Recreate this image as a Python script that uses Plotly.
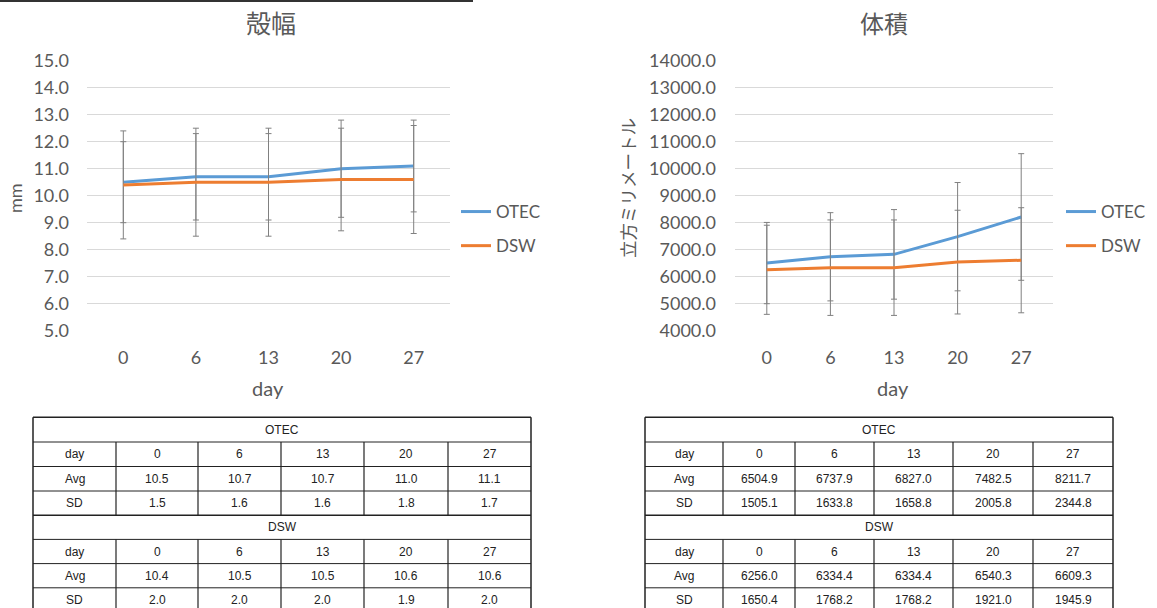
import plotly.graph_objects as go

# ---- data ----
days = ["0", "6", "13", "20", "27"]

width_otec_avg = [10.5, 10.7, 10.7, 11.0, 11.1]
width_otec_sd = [1.5, 1.6, 1.6, 1.8, 1.7]
width_dsw_avg = [10.4, 10.5, 10.5, 10.6, 10.6]
width_dsw_sd = [2.0, 2.0, 2.0, 1.9, 2.0]

vol_otec_avg = [6504.9, 6737.9, 6827.0, 7482.5, 8211.7]
vol_otec_sd = [1505.1, 1633.8, 1658.8, 2005.8, 2344.8]
vol_dsw_avg = [6256.0, 6334.4, 6334.4, 6540.3, 6609.3]
vol_dsw_sd = [1650.4, 1768.2, 1768.2, 1921.0, 1945.9]

series_names = ["OTEC", "DSW"]
series_colors = ["#5B9BD5", "#ED7D31"]

W, H = 1157, 608
TXT = "#595959"
FONT = "Lato, Noto Sans CJK JP, sans-serif"
JFONT = "Noto Sans CJK JP, sans-serif"
TFONT = "Liberation Sans Narrow, Liberation Sans, sans-serif"


def px(x):
    return x / W


def py(y):
    return 1 - y / H


fig = go.Figure()

# ---- line charts with SD error bars ----
charts = [
    ("x", "y", [width_otec_avg, width_dsw_avg], [width_otec_sd, width_dsw_sd], "legend"),
    ("x2", "y2", [vol_otec_avg, vol_dsw_avg], [vol_otec_sd, vol_dsw_sd], "legend2"),
]
for xa, ya, avgs, sds, leg in charts:
    for name, color, avg, sd in zip(series_names, series_colors, avgs, sds):
        fig.add_trace(go.Scatter(
            x=days, y=avg, name=name, mode="lines",
            line=dict(color=color, width=3),
            error_y=dict(type="data", array=sd, visible=True,
                         color="#808080", thickness=1, width=3),
            xaxis=xa, yaxis=ya, legend=leg, legendgroup=name,
        ))

axis_common = dict(showline=False, zeroline=False, ticks="",
                   tickfont=dict(family=FONT, size=18, color=TXT))

fig.update_layout(
    width=W, height=H,
    margin=dict(l=0, r=0, t=0, b=0, autoexpand=False),
    paper_bgcolor="white", plot_bgcolor="white",
    xaxis=dict(domain=[px(87), px(450)], type="category", range=[-0.5, 4.5],
               showgrid=False, anchor="y", ticklabelstandoff=14, **axis_common),
    yaxis=dict(domain=[py(330.7), py(60.7)], range=[5, 15], dtick=1,
               tickformat=".1f", gridcolor="#d9d9d9", gridwidth=1,
               anchor="x", ticklabelstandoff=17, **axis_common),
    xaxis2=dict(domain=[px(735), px(1053)], type="category", range=[-0.5, 4.5],
                showgrid=False, anchor="y2", ticklabelstandoff=14, **axis_common),
    yaxis2=dict(domain=[py(330.7), py(60.7)], range=[4000, 14000], dtick=1000,
                tickformat=".1f", gridcolor="#d9d9d9", gridwidth=1,
                anchor="x2", ticklabelstandoff=18, **axis_common),
    legend=dict(x=px(456), y=py(229), xanchor="left", yanchor="middle",
                font=dict(family=FONT, size=17, color=TXT),
                tracegroupgap=9, bgcolor="rgba(0,0,0,0)"),
    legend2=dict(x=px(1061), y=py(229), xanchor="left", yanchor="middle",
                 font=dict(family=FONT, size=17, color=TXT),
                 tracegroupgap=9, bgcolor="rgba(0,0,0,0)"),
    showlegend=True,
)

annotations = []
shapes = []

# titles and axis titles
annotations += [
    dict(text="殻幅", x=px(271), y=py(22), font=dict(family=JFONT, size=25, color=TXT)),
    dict(text="体積", x=px(884), y=py(22), font=dict(family=JFONT, size=24, color=TXT)),
    dict(text="mm", x=px(15), y=py(198), textangle=-90, font=dict(family=FONT, size=18, color=TXT)),
    dict(text="立方ミリメートル", x=px(627), y=py(188), textangle=-90,
         font=dict(family=JFONT, size=17.5, color=TXT)),
    dict(text="day", x=px(268), y=py(388), font=dict(family=FONT, size=20, color=TXT)),
    dict(text="day", x=px(893), y=py(388), font=dict(family=FONT, size=20, color=TXT)),
]

# top rule
shapes.append(dict(type="line", x0=px(0), x1=px(473), y0=py(1), y1=py(1),
                   line=dict(color="#333333", width=2)))

# ---- data tables ----
row_edges = [417.3, 442.0, 466.5, 491.0, 515.2, 539.4, 563.6, 587.8, 612.0]


def fmt(v):
    return f"{v:.1f}"


def draw_table(col_edges, otec_avg, otec_sd, dsw_avg, dsw_sd):
    left, right = col_edges[0], col_edges[-1]
    # horizontal rules
    for i, y in enumerate(row_edges):
        shapes.append(dict(type="line", x0=px(left), x1=px(right), y0=py(y), y1=py(y),
                           line=dict(color="#222222", width=1.5 if i in (0, 4) else 1)))
    # outer verticals
    for x in (left, right):
        shapes.append(dict(type="line", x0=px(x), x1=px(x), y0=py(row_edges[0]), y1=py(row_edges[-1]),
                           line=dict(color="#222222", width=1.5)))
    # inner verticals (not through merged header rows)
    for x in col_edges[1:-1]:
        for r0, r1 in ((1, 4), (5, 8)):
            shapes.append(dict(type="line", x0=px(x), x1=px(x),
                               y0=py(row_edges[r0]), y1=py(row_edges[r1]),
                               line=dict(color="#222222", width=1.2)))
    centers = [(col_edges[i] + col_edges[i + 1]) / 2 for i in range(len(col_edges) - 1)]
    blocks = [("OTEC", otec_avg, otec_sd, 0), ("DSW", dsw_avg, dsw_sd, 4)]
    for name, avg, sd, r in blocks:
        def cy(k):
            return (row_edges[r + k] + row_edges[r + k + 1]) / 2
        annotations.append(dict(text=name, x=px((left + right) / 2), y=py(cy(0)),
                                font=dict(family=TFONT, size=12, color="#222222")))
        rows = [("day", days), ("Avg", [fmt(v) for v in avg]), ("SD", [fmt(v) for v in sd])]
        for k, (label, vals) in enumerate(rows, start=1):
            annotations.append(dict(text=label, x=px(centers[0]), y=py(cy(k)),
                                    font=dict(family=TFONT, size=12, color="#222222")))
            for c, v in zip(centers[1:], vals):
                annotations.append(dict(text=v, x=px(c), y=py(cy(k)),
                                        font=dict(family=TFONT, size=12, color="#222222")))


draw_table([33, 116, 198, 281, 364, 448, 531],
           width_otec_avg, width_otec_sd, width_dsw_avg, width_dsw_sd)
draw_table([645, 723, 795, 874, 953, 1033, 1113],
           vol_otec_avg, vol_otec_sd, vol_dsw_avg, vol_dsw_sd)

for a in annotations:
    a.update(xref="paper", yref="paper", showarrow=False, xanchor="center", yanchor="middle")
for s in shapes:
    s.update(xref="paper", yref="paper")

fig.update_layout(annotations=annotations, shapes=shapes)

fig.write_html("out.html")
